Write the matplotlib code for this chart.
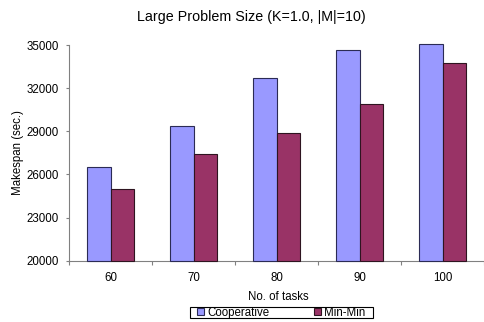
import numpy as np
import matplotlib.pyplot as plt
from matplotlib.patches import Rectangle

plt.rcParams['font.family'] = ['Liberation Sans', 'DejaVu Sans']

tasks = ['60', '70', '80', '90', '100']
cooperative = [26500, 29350, 32730, 34650, 35050]
min_min = [25000, 27440, 28880, 30900, 33730]

base = 20000

fig = plt.figure(figsize=(4.84, 3.22), dpi=100)
ax = fig.add_axes([0.1432, 0.1904, 0.8568, 0.6698])

x = np.arange(len(tasks))
w = 0.284
# bars start at the axis floor so the tallest one may poke above the top
ax.bar(x - w / 2, np.array(cooperative) - base, w, bottom=base, color='#9999ff',
       edgecolor='#2b2b55', linewidth=0.8, label='Cooperative', clip_on=False, zorder=3)
ax.bar(x + w / 2, np.array(min_min) - base, w, bottom=base, color='#993366',
       edgecolor='#2e1420', linewidth=0.8, label='Min-Min', clip_on=False, zorder=3)

ax.set_ylim(20000, 35000)
ax.set_xlim(-0.5, 4.476)
ax.set_yticks([20000, 23000, 26000, 29000, 32000, 35000])

# category labels in the middle, tick marks on the boundaries
ax.set_xticks(np.arange(-0.5, 5, 1.0))
ax.set_xticklabels([])
ax.set_xticks(x, minor=True)
ax.set_xticklabels(tasks, minor=True)
ax.tick_params(axis='x', which='major', length=3, width=0.8, color='#808080')
ax.tick_params(axis='x', which='minor', length=0, pad=8, labelsize=8.3)
ax.tick_params(axis='y', length=2.5, width=0.8, color='#808080', labelsize=8.3, pad=5)

for s in ['top', 'right']:
    ax.spines[s].set_visible(False)
for s in ['left', 'bottom']:
    ax.spines[s].set_color('#808080')
    ax.spines[s].set_linewidth(0.8)

ax.set_ylabel('Makespan (sec.)', fontsize=8.3, labelpad=2)
fig.text(0.575, 0.077, 'No. of tasks', ha='center', va='center', fontsize=8.3)
fig.text(0.519, 0.947, 'Large Problem Size (K=1.0, |M|=10)', ha='center',
         va='center', fontsize=10.3)

leg = fig.legend(loc='center', bbox_to_anchor=(0.5815, 0.0289), ncol=2,
                 fontsize=8.3, frameon=False, handlelength=0.6,
                 handleheight=0.6, handletextpad=0.25, columnspacing=3.9,
                 borderpad=0, borderaxespad=0)
fig.patches.append(Rectangle((0.3926, 0.0115), 0.378, 0.0351, transform=fig.transFigure,
                             fill=False, edgecolor='black', linewidth=0.8))

fig.savefig('out.png', dpi=100)
